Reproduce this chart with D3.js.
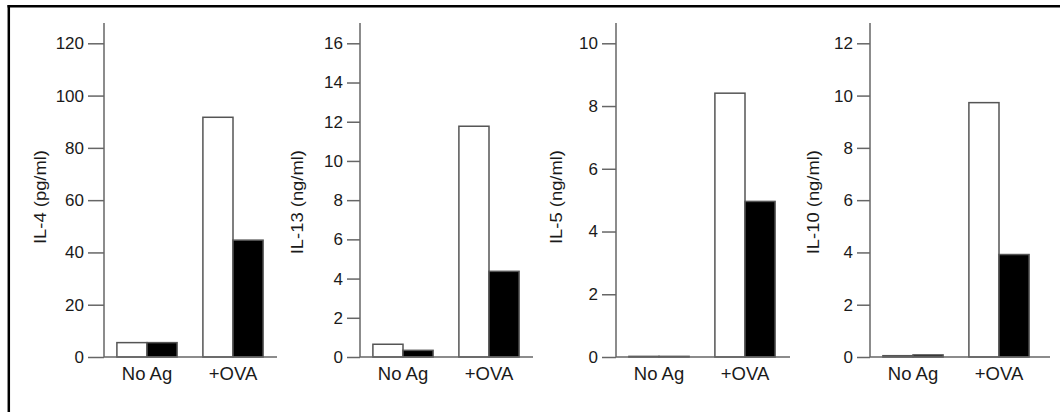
<!DOCTYPE html>
<html>
<head>
<meta charset="utf-8">
<script src="https://cdn.jsdelivr.net/npm/d3@7"></script>
<style>
  html, body { margin: 0; padding: 0; background: #fff; }
  svg { display: block; }
  text { font-family: "Liberation Sans", Arial, Helvetica, sans-serif; fill: #1a1a1a; }
</style>
</head>
<body>
<svg id="chart" width="1060" height="412"></svg>
<script>
// ---- data ----
const categories = ["No Ag", "+OVA"];
const series = ["open", "filled"];
const yLabels = ["IL-4 (pg/ml)", "IL-13 (ng/ml)", "IL-5 (ng/ml)", "IL-10 (ng/ml)"];
const yMaxes = [120, 16, 10, 12];
const yTickValues = [
  [0, 20, 40, 60, 80, 100, 120],
  [0, 2, 4, 6, 8, 10, 12, 14, 16],
  [0, 2, 4, 6, 8, 10],
  [0, 2, 4, 6, 8, 10, 12]
];
const openValues = [
  [5.5, 91.7],
  [0.65, 11.77],
  [0.02, 8.41],
  [0.05, 9.73]
];
const filledValues = [
  [5.5, 44.7],
  [0.34, 4.37],
  [0.02, 4.96],
  [0.08, 3.92]
];

// ---- layout (styles, not data) ----
const axisX = [104, 360, 616, 870];
const axisLen = [173, 173, 174, 180];
const tickLen = [16, 13, 14, 13];
const labelOffset = [58.5, 57, 54.5, 51];
const yZero = 357, yTop = 43.3, axisTopY = 23;
const axisColor = "#666";
const barStroke = "#555";

const svg = d3.select("#chart");

// frame (top and left)
svg.append("line").attr("x1", 7.5).attr("x2", 1060).attr("y1", 6.2).attr("y2", 6.2)
  .attr("stroke", "#000").attr("stroke-width", 2.5);
svg.append("line").attr("x1", 8.8).attr("x2", 8.8).attr("y1", 5).attr("y2", 412)
  .attr("stroke", "#000").attr("stroke-width", 2.5);

yLabels.forEach((lab, i) => {
  const g = svg.append("g").attr("transform", `translate(${axisX[i]},0)`);
  const y = d3.scaleLinear().domain([0, yMaxes[i]]).range([yZero, yTop]);
  const x = d3.scaleBand().domain(categories).range([0, 172]).paddingInner(0.3).paddingOuter(0.15);
  const xs = d3.scaleBand().domain(series).range([0, x.bandwidth()]);

  // bars
  const rows = categories.map((c, k) => ({cat: c, open: openValues[i][k], filled: filledValues[i][k]}));
  const grp = g.selectAll("g.grp").data(rows).join("g")
    .attr("class", "grp")
    .attr("transform", d => `translate(${x(d.cat)},0)`);
  grp.selectAll("rect").data(d => series.map(s => ({s, v: d[s]}))).join("rect")
    .attr("x", d => xs(d.s))
    .attr("width", xs.bandwidth())
    .attr("y", d => y(d.v))
    .attr("height", d => yZero - y(d.v))
    .attr("fill", d => d.s === "open" ? "#fff" : "#000")
    .attr("stroke", barStroke)
    .attr("stroke-width", 1.5);

  // y axis
  const ya = d3.axisLeft(y).tickValues(yTickValues[i]).tickSize(tickLen[i]).tickPadding(4).tickFormat(d3.format("d"));
  const yg = g.append("g").call(ya);
  yg.select(".domain").remove();
  yg.selectAll(".tick line").attr("stroke", axisColor).attr("stroke-width", 1.5);
  yg.selectAll(".tick text").attr("font-size", "17px").attr("fill", "#1a1a1a")
    .attr("font-family", "'Liberation Sans', Arial, sans-serif");
  g.append("line").attr("x1", 0).attr("x2", 0).attr("y1", axisTopY).attr("y2", yZero)
    .attr("stroke", axisColor).attr("stroke-width", 1.5);

  // x axis
  g.append("line").attr("x1", 0).attr("x2", axisLen[i]).attr("y1", yZero).attr("y2", yZero)
    .attr("stroke", axisColor).attr("stroke-width", 1.5);
  const xa = d3.axisBottom(x).tickSize(0).tickPadding(0);
  const xg = g.append("g").attr("transform", `translate(0,${yZero})`).call(xa);
  xg.select(".domain").remove();
  xg.selectAll(".tick text").attr("font-size", "18.5px").attr("fill", "#1a1a1a")
    .attr("dy", null).attr("y", 23)
    .attr("font-family", "'Liberation Sans', Arial, sans-serif");

  // y label
  g.append("text")
    .attr("transform", `translate(${-labelOffset[i]},150) rotate(-90) scale(1.15,1)`)
    .attr("text-anchor", "end")
    .attr("font-size", "16px")
    .text(lab);
});
</script>
</body>
</html>
